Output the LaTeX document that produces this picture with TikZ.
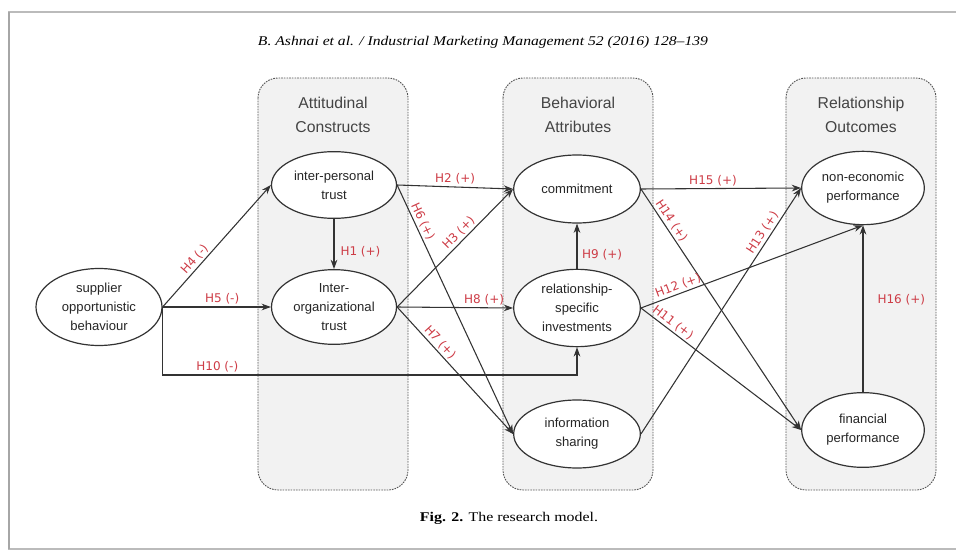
\documentclass[tikz,border=0pt]{standalone}
\usepackage{fontspec}
\usepackage{graphicx}
\setmainfont{Liberation Sans}
\newfontfamily\labelfont{DejaVu Sans}
\newfontfamily\pagefont{Liberation Serif}
\usetikzlibrary{shapes.geometric,arrows.meta}
\definecolor{edgegray}{HTML}{333333}
\definecolor{groupfill}{HTML}{F2F2F2}
\definecolor{groupline}{HTML}{555555}
\definecolor{hypred}{RGB}{205,60,70}
\definecolor{titlegray}{HTML}{444444}
\definecolor{framegray}{HTML}{BBBBBB}

\begin{document}
\begin{tikzpicture}[x=0.75pt,y=-0.75pt,
  construct/.style={ellipse, draw=edgegray, line width=0.9pt, fill=white, inner sep=0pt,
    align=center, font=\fontsize{9.8}{14.3}\selectfont, text=black!85},
  group/.style={draw=groupline, fill=groupfill, rounded corners=15pt,
    dash pattern=on 1.2pt off 0.8pt, line width=0.7pt},
  grouptitle/.style={align=center, font=\fontsize{11.8}{18}\selectfont, text=titlegray},
  link/.style={draw=edgegray, line width=0.8pt, -{Stealth[length=7pt,width=5pt]}},
  hyp/.style={font=\labelfont\fontsize{9}{10}\selectfont, text=hypred, inner sep=1.5pt},
]
\useasboundingbox (0,0) rectangle (956,552);

% page frame
\draw[framegray, line width=1.2pt] (9,12) rectangle (962,549);
\draw[black!35, line width=1.5pt] (9,12) -- (9,549);

% running head and caption
\node (head) at (483,42) {\resizebox{337.5pt}{\height}{\pagefont\itshape\fontsize{10}{12}\selectfont B. Ashnai et al. / Industrial Marketing Management 52 (2016) 128–139}};
\node (caption) at (509,518) {\resizebox{133.5pt}{\height}{\pagefont\fontsize{10}{12}\selectfont\textbf{Fig. 2.} The research model.}};

% construct groups
\draw[group] (258,78) rectangle (408,490);
\draw[group] (503,78) rectangle (653,490);
\draw[group] (786,78) rectangle (936,490);
\node[grouptitle] (gatt) at (333,115) {Attitudinal\\Constructs};
\node[grouptitle] (gbeh) at (578,115) {Behavioral\\Attributes};
\node[grouptitle] (grel) at (861,115) {Relationship\\Outcomes};

% constructs
\node[construct, minimum width=94.5pt, minimum height=57.75pt] (sob) at (99,307) {supplier\\opportunistic\\behaviour};
\node[construct, minimum width=93.75pt, minimum height=50pt] (ipt) at (334,185) {inter-personal\\trust};
\node[construct, minimum width=93.75pt, minimum height=56pt] (iot) at (334,307) {Inter-\\organizational\\trust};
\node[construct, minimum width=95pt, minimum height=51pt] (com) at (577,189) {commitment};
\node[construct, minimum width=95pt, minimum height=58pt] (rsi) at (577,308) {relationship-\\specific\\investments};
\node[construct, minimum width=95pt, minimum height=51pt] (ish) at (577,434) {information\\sharing};
\node[construct, minimum width=92pt, minimum height=55pt] (neo) at (863,188) {non-economic\\performance};
\node[construct, minimum width=92pt, minimum height=56pt] (fin) at (863,430) {financial\\performance};

% hypothesised paths
\draw[link] (sob.east) -- node[hyp, sloped, above, pos=0.35] {H4 (-)} (ipt.west);
\draw[link] (sob.east) -- node[hyp, above, pos=0.55] {H5 (-)} (iot.west);
\draw[link] (sob.east) -- ++(0,68) -| node[hyp, above, pos=0.066] {H10 (-)} (rsi.south);
\draw[link] (ipt.south) -- node[hyp, right=3pt, pos=0.65] {H1 (+)} (iot.north);
\draw[link] (ipt.east) -- node[hyp, above, pos=0.5] {H2 (+)} (com.west);
\draw[link] (ipt.east) -- node[hyp, sloped, above, pos=0.16] {H6 (+)} (ish.west);
\draw[link] (iot.east) -- node[hyp, sloped, above, pos=0.58] {H3 (+)} (com.west);
\draw[link] (iot.east) -- node[hyp, above, pos=0.75] {H8 (+)} (rsi.west);
\draw[link] (iot.east) -- node[hyp, sloped, above, pos=0.32] {H7 (+)} (ish.west);
\draw[link] (rsi.north) -- node[hyp, right=2pt, pos=0.32] {H9 (+)} (com.south);
\draw[link] (com.east) -- node[hyp, above, pos=0.45] {H15 (+)} (neo.west);
\draw[link] (com.east) -- node[hyp, sloped, above, pos=0.15] {H14 (+)} (fin.west);
\draw[link] (rsi.east) -- node[hyp, sloped, above, pos=0.18] {H12 (+)} (neo.south);
\draw[link] (rsi.east) -- node[hyp, sloped, above, pos=0.17] {H11 (+)} (fin.west);
\draw[link] (ish.east) -- node[hyp, sloped, above, pos=0.80] {H13 (+)} (neo.west);
\draw[link] (fin.north) -- node[hyp, right=9pt, pos=0.556] {H16 (+)} (neo.south);
\end{tikzpicture}
\end{document}
